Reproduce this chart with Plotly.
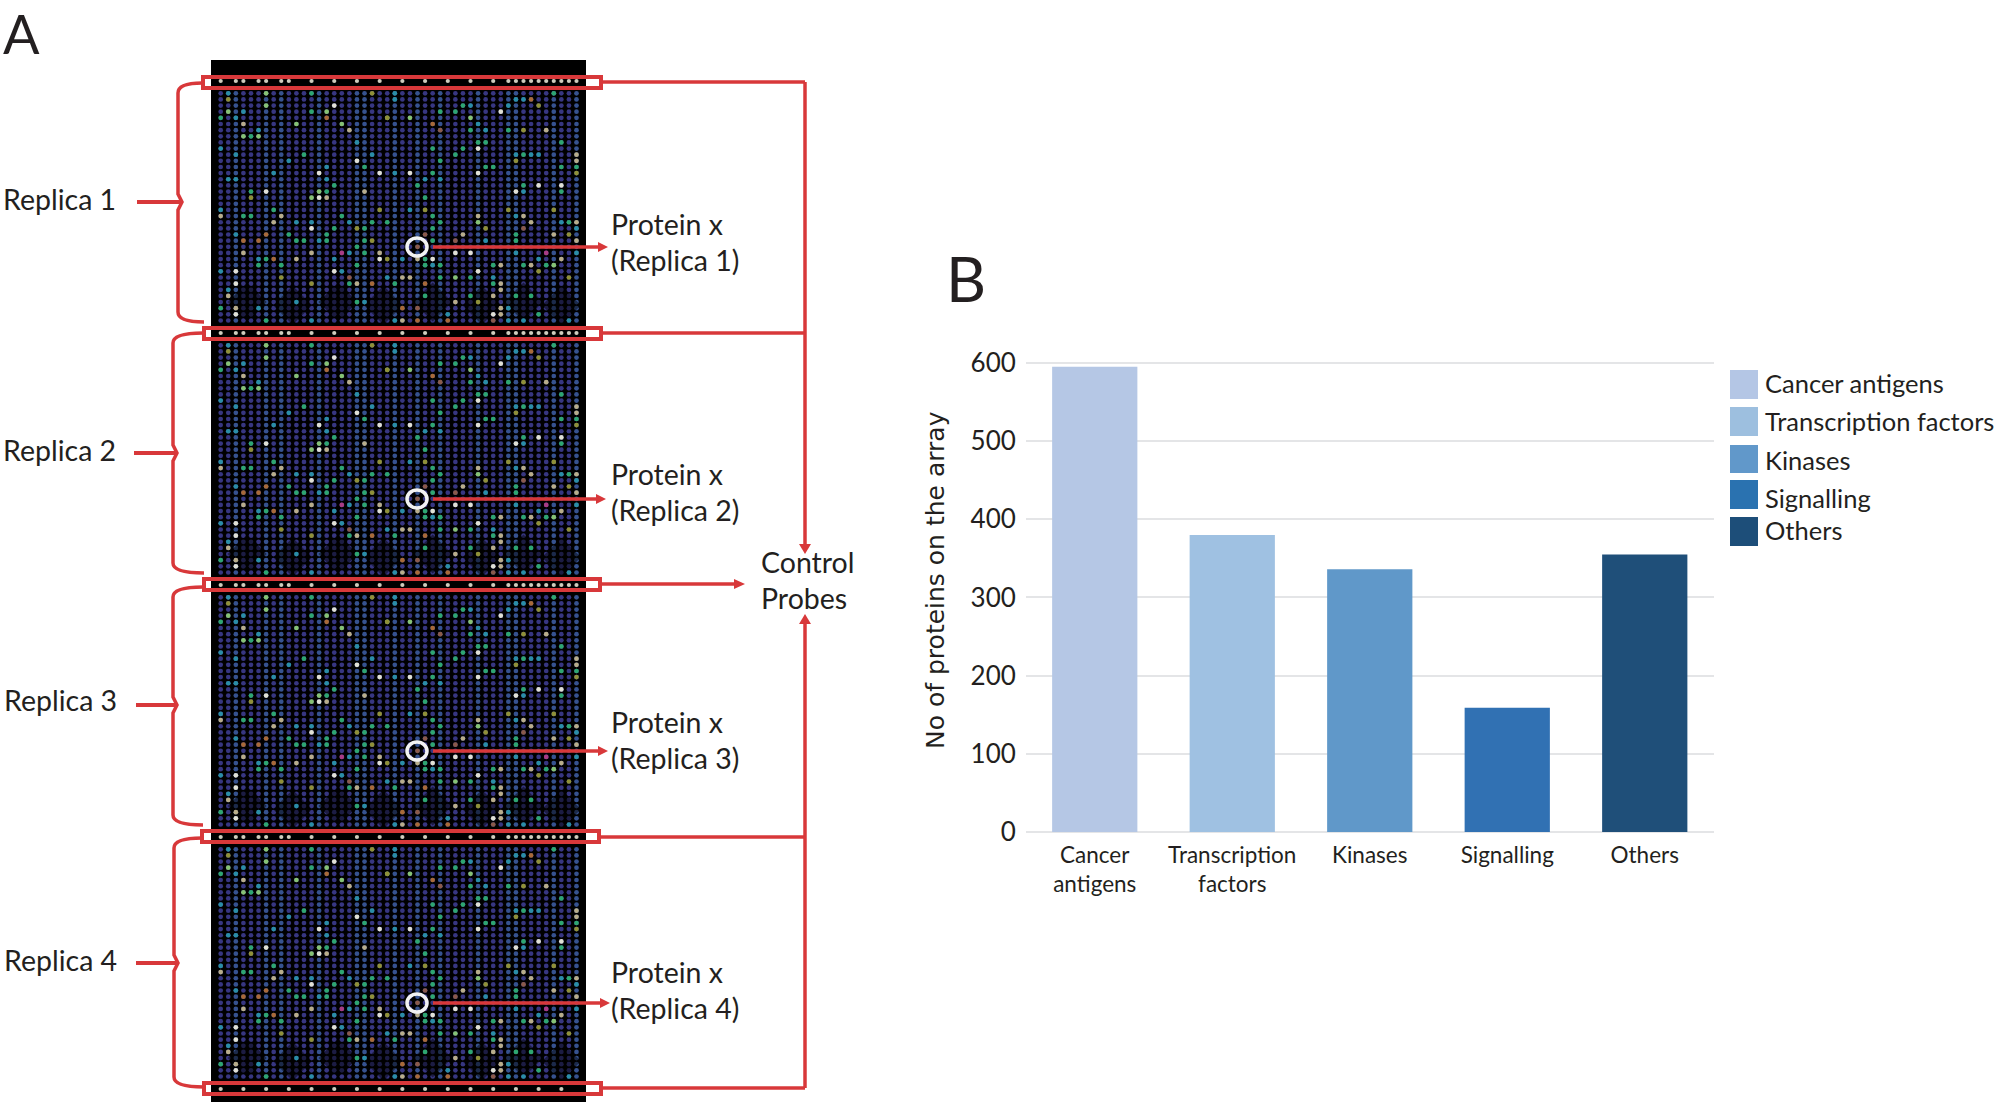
import numpy as np
import plotly.graph_objects as go

# ---------- Panel B data ----------
CATEGORIES = ["Cancer antigens", "Transcription factors", "Kinases", "Signalling", "Others"]
CATEGORY_TICKS = ["Cancer<br>antigens", "Transcription<br>factors", "Kinases", "Signalling", "Others"]
PROTEIN_COUNTS = [595, 380, 336, 159, 355]
BAR_COLORS = ["#b5c7e5", "#9fc1e2", "#6098c9", "#3171b3", "#1f4f79"]
LEGEND_COLORS = ["#b4c6e5", "#9dbfdf", "#6198ca", "#2a72b0", "#1d4e79"]
Y_TICKS = [0, 100, 200, 300, 400, 500, 600]

# ---------- Panel A data: spots (column, row) ----------
REPLICA_LABELS = ["Replica 1", "Replica 2", "Replica 3", "Replica 4"]
BLUE_COLUMNS = [2, 6, 8, 13, 18, 19, 23, 26, 29, 34, 38, 39, 44, 47]
CONTROL_COLUMNS = [0, 2, 3, 5, 6, 8, 9, 12, 15, 18, 21, 24, 27, 30, 33, 36, 38, 39, 40, 41, 42, 43, 44, 45, 46, 47]
LAST_CONTROL_COLUMNS = [0, 3, 6, 9, 12, 15, 18, 21, 24, 27, 30, 33, 36, 39, 42, 45]
DARK_PATCHES = [(3.5, 34), (9.5, 34.5), (15.5, 34), (21.5, 34.5), (28, 34), (34.5, 34.5), (40, 34), (45, 34.5)]
SPOTS = {
    "#e0e0d4": [(15,2),(18,11),(13,13),(21,13),(6,16),(13,17),(37,3),(34,9),(25,13),(34,13),(42,15),(45,15),(39,16),
                (12,22),(21,27),(2,29),(15,29),(2,31),(2,36),(31,26),(33,26),(28,27),(34,29),(36,36)],
    "#b8ad8a": [(3,5),(17,6),(19,16),(14,17),(43,6),(47,10),(47,11),(0,20),(8,20),(7,21),(3,26),(12,26),(21,26),(10,27),
                (24,30),(1,33),(2,35),(34,20),(40,20),(41,21),(47,21),(32,23),(44,23),(47,24),(26,27),(45,27),(37,28),
                (41,28),(25,30),(37,31),(37,32),(36,33),(31,34),(37,35),(37,36),(24,37),(18,31)],
    "#2ea670": [(12,0),(12,3),(0,4),(4,7),(11,10),(19,12),(14,16),(4,16),(15,15),(44,0),(32,2),(29,3),(31,3),(33,6),(38,6),
                (34,8),(35,8),(28,9),(32,9),(45,8),(31,10),(40,10),(29,11),(35,12),(36,12),(45,12),(47,12),(28,13),(26,15),
                (40,15),(45,16),(27,17),(7,19),(3,20),(4,20),(16,20),(20,21),(22,21),(15,22),(19,22),(9,23),(14,23),(10,24),
                (11,24),(14,24),(19,24),(18,25),(19,26),(6,27),(5,28),(8,28),(18,28),(17,31),(23,31),(18,34),(0,35),(6,37),
                (28,20),(29,21),(28,22),(39,23),(28,24),(39,24),(46,21),(27,27),(27,28),(29,28),(36,28),(40,28),(43,28),
                (29,30),(33,30),(36,31),(27,33),(33,33),(39,33),(41,33),(42,36)],
    "#86c273": [(6,0),(6,2),(1,3),(14,3),(10,5),(16,5),(3,7),(5,7),(13,16),(12,17),(25,4),(33,4),(34,21),(44,28),(31,30),(22,4)],
    "#2a8ea6": [(1,0),(23,0),(23,1),(3,3),(2,4),(5,6),(0,9),(18,8),(2,10),(20,10),(9,11),(7,13),(23,13),(1,14),(2,14),(14,14),(14,12),
                (33,2),(34,5),(35,6),(38,2),(39,1),(40,1),(39,10),(41,10),(42,10),(29,14),(27,14),(40,16),(0,19),(12,21),(17,21),
                (10,21),(2,23),(13,24),(17,26),(5,27),(15,27),(0,29),(16,29),(22,30),(1,32),(10,34),(19,34),(5,35),(12,37),(23,37),
                (25,19),(39,20),(45,21),(47,22),(35,24),(39,26),(47,26),(24,27),(42,27),(28,28),(36,30),(38,35),(30,36),(40,37),(46,37),(38,37)],
    "#8f9038": [(20,0),(1,1),(4,17),(22,4),(42,2),(40,6),(39,11),(47,13),(21,19),(18,22),(20,24),(22,27),(8,30),(12,31),(38,19),(44,19),
                (27,19),(35,22),(46,23),(42,29),(46,30),(34,34)],
    "#a86a38": [(14,4),(28,5),(41,1),(6,23),(3,24),(5,24),(7,27),(20,31),(24,35),(27,31),(26,37),(30,37)],
    "#8a5a4a": [(29,6),(17,30),(40,22),(27,23),(31,24),(26,25),(26,35),(36,37)],
    "#a83c84": [(16,26),(43,26)],
}
COLOR_ORDER = list(SPOTS)

# ---------- Layout constants (pixels on the 1995x1107 page) ----------
W, H = 1995, 1107
RED = "#d8383a"
LINE_COLOR = "#231f20"
FONT = "Lato"
COLS, ROWS = 48, 38
X0, DX = 220.7, 7.57
Y0, DY, PERIOD = 93.3, 6.14, 252
BLOCKS = [0, 1, 2, 3]


def col_x(c):
    return X0 + np.asarray(c, dtype=float) * DX


def row_y(r, b):
    return Y0 + np.asarray(r, dtype=float) * DY + b * PERIOD


fig = go.Figure()

# Panel B bars, on the library's scales
fig.add_trace(go.Bar(
    x=CATEGORIES, y=PROTEIN_COUNTS, marker=dict(color=BAR_COLORS, line=dict(width=0)),
    width=0.62, showlegend=False, xaxis="x", yaxis="y",
))

# Panel A: array lattice
lat_c, lat_r = np.meshgrid(np.arange(COLS), np.arange(ROWS))
lat_c, lat_r = lat_c.ravel(), lat_r.ravel()
xs, ys, cs = [], [], []
for b in BLOCKS:
    xs.append(col_x(lat_c))
    ys.append(row_y(lat_r, b))
    cs += ["#36528f" if c in BLUE_COLUMNS else "#373681" for c in lat_c]
fig.add_trace(go.Scatter(
    x=np.concatenate(xs), y=np.concatenate(ys), mode="markers", xaxis="x2", yaxis="y2",
    marker=dict(size=4.7, color=cs, line=dict(width=0)), showlegend=False, hoverinfo="skip",
))
# dim patches at the foot of each block
px = [col_x(p[0]) for b in BLOCKS for p in DARK_PATCHES]
py = [row_y(p[1], b) for b in BLOCKS for p in DARK_PATCHES]
fig.add_trace(go.Scatter(
    x=px, y=py, mode="markers", xaxis="x2", yaxis="y2",
    marker=dict(size=30, symbol="diamond", color="rgba(0,0,0,0.48)", line=dict(width=0)),
    showlegend=False, hoverinfo="skip",
))
# bright spots
for color in COLOR_ORDER:
    pts = SPOTS[color]
    fig.add_trace(go.Scatter(
        x=[col_x(p[0]) for b in BLOCKS for p in pts],
        y=[row_y(p[1], b) for b in BLOCKS for p in pts],
        mode="markers", xaxis="x2", yaxis="y2",
        marker=dict(size=4.7, color=color, line=dict(width=0)), showlegend=False, hoverinfo="skip",
    ))
# control probe bands
for band in range(5):
    cols = LAST_CONTROL_COLUMNS if band == 4 else CONTROL_COLUMNS
    fig.add_trace(go.Scatter(
        x=col_x(cols), y=[row_y(-2, band)] * len(cols), mode="markers", xaxis="x2", yaxis="y2",
        marker=dict(size=4.2, color="#cfcdbe", line=dict(width=0)), showlegend=False, hoverinfo="skip",
    ))

shapes = []


def shape(**kw):
    kw.setdefault("xref", "x2")
    kw.setdefault("yref", "y2")
    shapes.append(kw)


# black slide behind the spots
shape(type="rect", x0=211, x1=586, y0=60, y1=1102, fillcolor="#000000", line=dict(width=0), layer="below")

# red boxes around the control bands
for x0, x1, y0, y1 in [(203, 601, 77, 88), (204, 601, 328, 339), (204, 600, 579, 590), (202, 599, 831, 842), (204, 601, 1083, 1094)]:
    shape(type="rect", x0=x0, x1=x1, y0=y0, y1=y1, line=dict(color=RED, width=4))

# right-hand connector
shape(type="line", x0=805, x1=805, y0=82, y1=545, line=dict(color=RED, width=3.5))
shape(type="line", x0=805, x1=805, y0=622, y1=1088, line=dict(color=RED, width=3.5))
for yy in [82, 333, 837, 1088]:
    shape(type="line", x0=601, x1=805, y0=yy, y1=yy, line=dict(color=RED, width=3.5))
shape(type="line", x0=600, x1=735, y0=584, y1=584, line=dict(color=RED, width=3.5))

RED_TRIANGLES = [
    "M 799 544 L 811 544 L 805 554 Z",
    "M 799 624 L 811 624 L 805 614 Z",
    "M 734 579 L 745 584 L 734 589 Z",
]
for d in RED_TRIANGLES:
    shape(type="path", path=d, fillcolor=RED, line=dict(width=0))

# braces
for vx, top, mid, bot, tick, top_end, bot_end in [
    (178, 83, 202, 322, 137, 202, 204),
    (173, 333, 453, 573, 134, 203, 204),
    (173, 587, 705, 825, 136, 203, 203),
    (174, 838, 963, 1087, 136, 202, 204),
]:
    p = (f"M {top_end} {top} Q {vx} {top} {vx} {top+10} L {vx} {mid-8} L {vx+4} {mid} L {vx} {mid+8} "
         f"L {vx} {bot-10} Q {vx} {bot} {bot_end} {bot}")
    shape(type="path", path=p, line=dict(color=RED, width=3.5))
    shape(type="line", x0=tick, x1=vx + 3, y0=mid, y1=mid, line=dict(color=RED, width=4))

# protein x circles and arrows
for cy, x1 in [(247, 598), (499, 596), (751, 598), (1003, 600)]:
    shape(type="circle", x0=407, x1=427, y0=cy - 9, y1=cy + 9, line=dict(color="#f2f2f2", width=3.5))
    shape(type="line", x0=433, x1=x1, y0=cy, y1=cy, line=dict(color=RED, width=3.5))
    shape(type="path", path=f"M {x1} {cy-5} L {x1+10} {cy} L {x1} {cy+5} Z", fillcolor=RED, line=dict(width=0))

# legend swatches
for color, (y0, y1) in zip(LEGEND_COLORS, [(370, 399), (407, 436), (445, 473), (480, 509), (517, 546)]):
    shape(type="rect", x0=1730, x1=1758, y0=y0, y1=y1, fillcolor=color, line=dict(width=0))

annotations = []


def text(x, y, s, size=28.5, anchor="left", family=FONT, angle=0):
    annotations.append(dict(
        x=x, y=y, xref="x2", yref="y2", text=s, showarrow=False, xanchor=anchor, yanchor="middle",
        align="left" if anchor == "left" else "center", textangle=angle,
        font=dict(family=family, size=size, color=LINE_COLOR),
    ))


text(1, 33, "A", size=54)
text(944, 278, "B", size=62)
for label, (x, y) in zip(REPLICA_LABELS, [(0.5, 199), (0.5, 450), (2, 700), (2, 960)]):
    text(x, y, label)
for i, (x, y1, y2) in enumerate([(609, 224, 260), (609, 474, 510), (609, 722, 758), (609, 972, 1008)]):
    text(x, y1, "Protein x")
    text(x, y2, f"(Replica {i + 1})")
text(759, 562, "Control")
text(759, 598, "Probes")
text(935, 580, "No of proteins on the array", size=25, anchor="center", family="DejaVu Sans", angle=-90)
for name, y in zip(CATEGORIES, [383, 421, 460, 498, 530]):
    text(1763, y, name, size=25.5)

fig.update_layout(
    width=W, height=H, margin=dict(l=0, r=0, t=0, b=0), autosize=False,
    paper_bgcolor="white", plot_bgcolor="rgba(0,0,0,0)", showlegend=False,
    font=dict(family=FONT, color=LINE_COLOR),
    xaxis=dict(
        domain=[1026 / W, 1713.5 / W], anchor="y", type="category", categoryorder="array", categoryarray=CATEGORIES,
        tickmode="array", tickvals=CATEGORIES, ticktext=CATEGORY_TICKS, tickfont=dict(size=22.5, family=FONT, color=LINE_COLOR),
        ticks="outside", ticklen=3, tickcolor="rgba(0,0,0,0)", showgrid=False, showline=False, zeroline=False, automargin=False,
    ),
    yaxis=dict(
        domain=[1 - 832 / H, 1 - 361.4 / H], anchor="x", range=[0, 602], tickmode="array", tickvals=Y_TICKS,
        tickfont=dict(size=26, family=FONT, color=LINE_COLOR), ticks="outside", ticklen=4, tickcolor="rgba(0,0,0,0)",
        showgrid=True, gridcolor="#e4e5e7", gridwidth=2, zeroline=True, zerolinecolor="#e4e5e7", zerolinewidth=2, showline=False,
        automargin=False,
    ),
    xaxis2=dict(domain=[0, 1], range=[0, W], anchor="y2", visible=False, fixedrange=True, automargin=False),
    yaxis2=dict(domain=[0, 1], range=[H, 0], anchor="x2", visible=False, fixedrange=True, automargin=False),
    shapes=shapes, annotations=annotations,
)

fig.write_html("out.html", config=dict(displayModeBar=False),
               post_script="document.body.style.margin='0';document.body.style.overflow='hidden';")
